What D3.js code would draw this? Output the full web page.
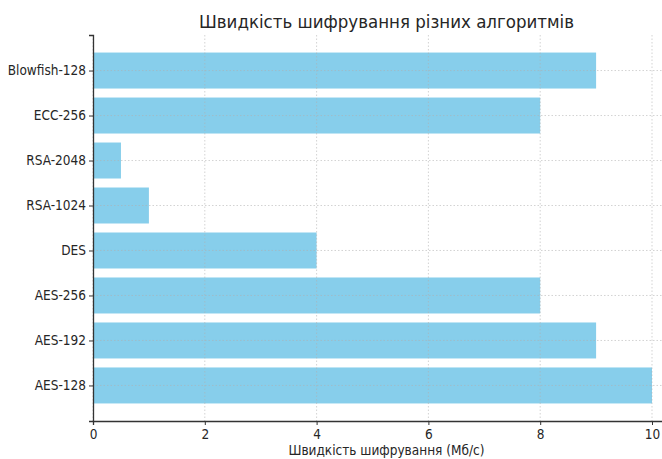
<!DOCTYPE html>
<html>
<head>
<meta charset="utf-8">
<script src="https://cdn.jsdelivr.net/npm/d3@7"></script>
<style>
  body { margin: 0; background: #fff; }
  svg { display: block; font-family: 'DejaVu Sans Condensed', 'DejaVu Sans', sans-serif; }
</style>
</head>
<body>
<svg id="chart" width="662" height="459"></svg>
<script>
// Algorithms, bottom to top as drawn
const algorithms = ['AES-128', 'AES-192', 'AES-256', 'DES', 'RSA-1024', 'RSA-2048', 'ECC-256', 'Blowfish-128'];
const speeds = [10, 9, 8, 4, 1, 0.5, 8, 9];
const xTicks = [0, 2, 4, 6, 8, 10];
const title = 'Швидкість шифрування різних алгоритмів';
const xLabel = 'Швидкість шифрування (Мб/с)';

const svg = d3.select('#chart');
const plotLeft = 93, plotBottom = 421, plotTop = 35;
const n = algorithms.length;

// matplotlib-like limits: x 0..max*1.05, y with 5% padding around bars of height 0.8
const x = d3.scaleLinear().domain([0, 10.5]).range([plotLeft, plotLeft + (652 - plotLeft) * 1.05]);
const y = d3.scaleLinear().domain([-0.79, n - 1 + 0.79]).range([plotBottom, plotTop]);
const barH = y(0) - y(0.8);

// bars
svg.append('g')
    .selectAll('rect')
    .data(algorithms)
    .join('rect')
    .attr('x', x(0))
    .attr('y', (d, i) => y(i + 0.4))
    .attr('width', (d, i) => x(speeds[i]) - x(0))
    .attr('height', barH)
    .attr('fill', '#87ceeb');

// grid over bars
const grid = svg.append('g')
    .attr('stroke', '#b0b0b0')
    .attr('stroke-opacity', 0.7)
    .attr('stroke-width', 0.8)
    .attr('stroke-dasharray', '1.5,2');
grid.selectAll('line.v')
    .data(xTicks)
    .join('line')
    .attr('class', 'v')
    .attr('x1', d => x(d)).attr('x2', d => x(d))
    .attr('y1', plotTop).attr('y2', plotBottom);
grid.selectAll('line.h')
    .data(algorithms)
    .join('line')
    .attr('class', 'h')
    .attr('x1', plotLeft).attr('x2', 662)
    .attr('y1', (d, i) => y(i)).attr('y2', (d, i) => y(i));

// axes share the same look
function styleAxis (g) {
    g.attr('font-family', null).attr('font-size', null);
    g.select('.domain').attr('stroke', '#333').attr('stroke-width', 1.3);
    g.selectAll('.tick line').attr('stroke', '#333');
    g.selectAll('.tick text').attr('font-size', 13.5).attr('fill', '#262626');
}

// x axis
svg.append('g')
    .attr('transform', `translate(0,${plotBottom})`)
    .call(d3.axisBottom(x).tickValues(xTicks).tickSize(4).tickPadding(4).tickFormat(d3.format('d')))
    .call(styleAxis);

// y axis
svg.append('g')
    .attr('transform', `translate(${plotLeft},0)`)
    .call(d3.axisLeft(y).tickValues(d3.range(n)).tickSize(4).tickPadding(3).tickFormat(i => algorithms[i]))
    .call(styleAxis);

// titles
svg.append('text')
    .attr('x', (plotLeft + x(10.5)) / 2)
    .attr('y', 28)
    .attr('text-anchor', 'middle')
    .attr('font-size', 18.5)
    .attr('fill', '#262626')
    .text(title);

svg.append('text')
    .attr('x', (plotLeft + x(10.5)) / 2)
    .attr('y', 455)
    .attr('text-anchor', 'middle')
    .attr('font-size', 13.5)
    .attr('fill', '#262626')
    .text(xLabel);
</script>
</body>
</html>
